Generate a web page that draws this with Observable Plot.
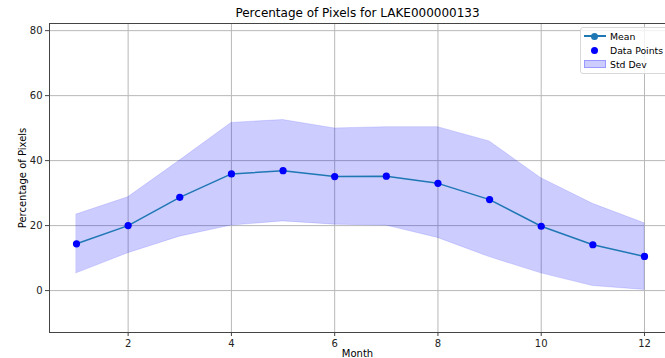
<!DOCTYPE html>
<html>
<head>
<meta charset="utf-8">
<script src="https://cdn.jsdelivr.net/npm/d3@7"></script>
<script src="https://cdn.jsdelivr.net/npm/@observablehq/plot@0.6"></script>
<style>
  html, body { margin: 0; padding: 0; background: #fff; }
  #wrap { position: relative; width: 665px; height: 358px; overflow: hidden; font-family: "DejaVu Sans", sans-serif; }
  #legend { position: absolute; left: 580px; top: 27px; width: 100px; height: 45px; border: 1px solid #d8d8d8; border-radius: 3px; background: rgba(255,255,255,0.8); font-size: 9.3px; color: #000; }
  .row { position: absolute; left: 0; height: 12px; display: flex; align-items: center; }
  .sym { position: relative; width: 24px; height: 12px; margin-left: 1px; }
  .lab { margin-left: 4px; white-space: nowrap; }
</style>
</head>
<body>
<div id="wrap">
  <div id="chart"></div>
  <div id="legend">
    <div class="row" style="top:2px"><div class="sym">
      <div style="position:absolute;left:2px;top:5px;width:22px;height:1.5px;background:#1f77b4"></div>
      <div style="position:absolute;left:9px;top:2.5px;width:7px;height:7px;border-radius:50%;background:#1f77b4"></div>
    </div><span class="lab">Mean</span></div>
    <div class="row" style="top:16px"><div class="sym">
      <div style="position:absolute;left:9px;top:2.5px;width:7px;height:7px;border-radius:50%;background:blue"></div>
    </div><span class="lab">Data Points</span></div>
    <div class="row" style="top:30px"><div class="sym">
      <div style="position:absolute;left:2px;top:2px;width:22px;height:8px;background:rgba(0,0,255,0.2);border:0.5px solid rgba(0,0,255,0.25);box-sizing:border-box"></div>
    </div><span class="lab">Std Dev</span></div>
  </div>
</div>
<script>
const months = [1, 2, 3, 4, 5, 6, 7, 8, 9, 10, 11, 12];
const meanValues = [14.4, 20.0, 28.7, 35.9, 36.9, 35.1, 35.2, 33.0, 28.0, 19.8, 14.1, 10.5];
const upperValues = [23.4, 28.7, 40.0, 51.6, 52.5, 49.9, 50.3, 50.3, 45.9, 34.6, 26.7, 20.7];
const lowerValues = [5.3, 11.5, 16.6, 20.0, 21.3, 20.3, 20.0, 16.2, 10.3, 5.3, 1.4, 0.2];
const xTicks = [2, 4, 6, 8, 10, 12];
const yTicks = [0, 20, 40, 60, 80];
const titleText = "Percentage of Pixels for LAKE000000133";
const xLabel = "Month";
const yLabel = "Percentage of Pixels";

const data = months.map((m, i) => ({month: m, mean: meanValues[i], upper: upperValues[i], lower: lowerValues[i]}));
const xDomain = [0.477, 12.407];
const yDomain = [-12.9, 82.2];

const chart = Plot.plot({
  width: 665,
  height: 358,
  marginLeft: 49,
  marginRight: 0,
  marginTop: 23,
  marginBottom: 26,
  style: {fontFamily: "DejaVu Sans, sans-serif", fontSize: "10px", background: "white", overflow: "visible"},
  x: {domain: xDomain, label: null},
  y: {domain: yDomain, label: null},
  marks: [
    Plot.gridX(xTicks, {stroke: "#b8b8b8", strokeOpacity: 1, strokeWidth: 1}),
    Plot.gridY(yTicks, {stroke: "#b8b8b8", strokeOpacity: 1, strokeWidth: 1}),
    Plot.areaY(data, {x: "month", y1: "lower", y2: "upper", fill: "blue", fillOpacity: 0.2, stroke: "blue", strokeOpacity: 0.12, strokeWidth: 1}),
    Plot.line(data, {x: "month", y: "mean", stroke: "#1f77b4", strokeWidth: 1.5}),
    Plot.dot(data, {x: "month", y: "mean", fill: "#1f77b4", r: 3}),
    Plot.dot(data, {x: "month", y: "mean", fill: "blue", r: 3.6}),
    Plot.ruleX([xDomain[0]], {stroke: "#444", strokeWidth: 1}),
    Plot.ruleY([yDomain[0], yDomain[1]], {stroke: "#444", strokeWidth: 1}),
    Plot.axisX(xTicks, {tickSize: 4, tickPadding: 3, label: null, fontSize: 10, fill: "#222", stroke: "#444"}),
    Plot.axisY(yTicks, {tickSize: 4, tickPadding: 3, label: null, fontSize: 10, fill: "#222", stroke: "#444"}),
    Plot.text([titleText], {frameAnchor: "top", lineAnchor: "middle", textAnchor: "middle", dy: -10, fontSize: 12, fill: "#000"}),
    Plot.text([xLabel], {frameAnchor: "bottom", lineAnchor: "middle", textAnchor: "middle", dy: 21, fontSize: 10, fill: "#000"}),
    Plot.text([yLabel], {frameAnchor: "left", lineAnchor: "middle", textAnchor: "middle", rotate: -90, dx: -27, fontSize: 10, fill: "#000"})
  ]
});
document.getElementById("chart").appendChild(chart);
</script>
</body>
</html>
